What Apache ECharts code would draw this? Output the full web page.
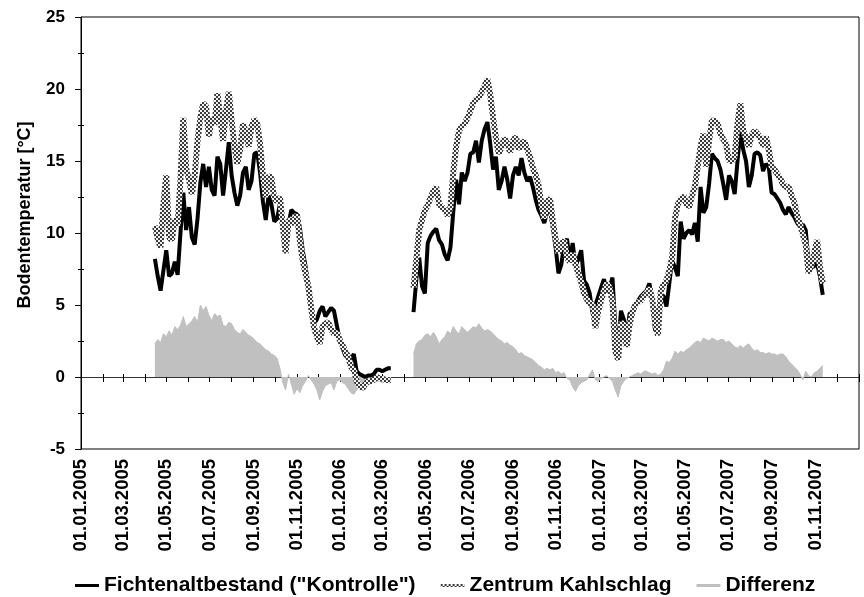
<!DOCTYPE html>
<html>
<head>
<meta charset="utf-8">
<script src="https://cdn.jsdelivr.net/npm/echarts@6/dist/echarts.min.js"></script>
<style>
  html, body { margin: 0; padding: 0; background: #fff; }
  #chart { width: 864px; height: 597px; }
</style>
</head>
<body>
<div id="chart"></div>
<script>
// Bodentemperatur, Werte alle 4 Tage
const stepDays = 4
const seg1Start = '2005-04-15'
const seg2Start = '2006-04-14'

const kontrolle1 = [
  8.2, 7.0, 6.0, 7.4, 8.8, 7.0, 7.2, 8.0, 7.1, 10.0,
  12.8, 10.2, 11.8, 9.7, 9.2, 11.0, 13.5, 14.8, 13.2, 14.6,
  13.0, 12.6, 15.3, 14.8, 12.6, 14.4, 16.3, 14.0, 12.8, 11.9,
  12.6, 14.2, 14.6, 13.0, 13.6, 15.5, 15.6, 14.2, 12.2, 10.9,
  12.6, 12.0, 10.8, 11.0, 12.0, 10.8, 9.6, 10.6, 11.6, 11.4,
  11.3, 10.4, 8.8, 7.7, 6.2, 4.8, 3.7, 4.0, 4.6, 4.9,
  4.2, 4.5, 4.8, 4.6, 3.6, 2.6, 2.0, 1.5, 1.3, 1.2,
  1.6, 0.4, 0.2, 0.1, 0.0, 0.1, 0.1, 0.2, 0.5, 0.5,
  0.4, 0.5, 0.6, 0.6
]
const kahlschlag1 = [
  10.5, 9.6, 9.0, 12.0, 14.0, 9.7, 9.5, 11.0, 10.5, 13.7,
  18.0, 14.5, 13.7, 12.7, 14.0, 16.4, 18.0, 19.0, 18.8, 16.7,
  18.0, 17.5, 19.7, 18.0, 16.4, 18.5, 19.8, 17.8, 16.0, 14.8,
  15.8, 17.6, 17.0, 16.0, 17.4, 17.9, 17.6, 16.2, 14.0, 12.5,
  14.0, 13.8, 12.4, 12.2, 12.5, 10.5, 8.6, 10.8, 11.0, 10.6,
  11.3, 9.5, 8.1, 7.2, 6.3, 4.8, 3.4, 2.8, 2.3, 3.5,
  3.7, 3.8, 3.3, 3.0, 3.1, 2.6, 2.2, 1.8, 1.4, 0.7,
  0.5, -0.3, -0.6, -0.8, -0.5, -0.3, -0.3, -0.2, 0.0, -0.1,
  -0.1, -0.2, -0.2, -0.2
]
const differenz1 = [
  2.3, 2.6, 2.4, 3.0, 2.8, 3.2, 2.9, 3.5, 3.3, 3.6,
  4.2, 3.5, 3.7, 3.9, 4.2, 3.8, 5.0, 4.6, 4.9, 4.3,
  3.9, 4.4, 4.2, 4.3, 3.6, 3.5, 3.8, 3.7, 3.3, 3.1,
  3.0, 3.3, 3.1, 2.9, 2.8, 2.6, 2.4, 2.3, 2.1, 1.9,
  1.8, 1.6, 1.5, 1.3, 0.6, -0.4, -0.9, 0.2, -0.5, -1.2,
  -0.8, -1.1, -0.6, -0.3, 0.1, -0.2, -0.5, -0.9, -1.6, -1.0,
  -0.6, -0.5, -0.4, -0.9, -0.3, -0.2, -0.4, -0.5, -0.8, -1.1,
  -1.2, -0.9, -0.7, -0.5, -0.4, -0.3, -0.4, -0.4, -0.3, -0.3,
  -0.4, -0.3, -0.4, -0.4
]

const kontrolle2 = [
  4.5, 6.8, 8.3, 6.3, 5.8, 9.3, 9.8, 10.1, 10.3, 9.5,
  9.2, 8.5, 8.1, 9.0, 11.5, 13.7, 12.0, 14.2, 13.6, 14.2,
  15.5, 15.6, 16.4, 14.9, 16.4, 17.2, 17.7, 16.2, 14.4, 15.3,
  13.0, 13.6, 14.6, 13.7, 12.4, 14.0, 14.6, 14.0, 15.2, 14.2,
  13.6, 13.9, 13.2, 12.3, 11.6, 11.2, 10.7, 11.5, 11.6, 10.4,
  9.0, 7.2, 7.8, 9.2, 9.6, 8.0, 9.3, 7.7, 8.2, 8.8,
  6.7, 6.4, 5.8, 4.4, 5.0, 5.6, 6.2, 6.8, 5.9, 6.2,
  6.9, 3.5, 2.1, 4.6, 4.0, 2.6, 4.4, 4.5, 4.9, 5.3,
  5.6, 5.8, 6.0, 6.5, 5.3, 3.2, 3.6, 5.8, 5.6, 4.9,
  6.5, 8.1, 7.6, 7.0, 10.8, 9.6, 10.0, 10.2, 9.9, 10.7,
  9.4, 13.2, 11.4, 11.8, 13.4, 15.5, 15.2, 15.0, 14.4, 13.4,
  12.3, 14.0, 13.6, 12.7, 15.0, 17.1, 15.8, 15.0, 13.2, 14.0,
  15.5, 15.6, 15.4, 14.3, 14.8, 14.6, 12.8, 12.7, 12.4, 12.1,
  11.6, 11.3, 11.8, 11.4, 11.1, 10.7, 10.4, 10.6, 10.2, 8.0,
  7.6, 7.7, 7.9, 7.0, 5.7
]
const kahlschlag2 = [
  6.2, 8.2, 10.2, 10.9, 11.6, 11.9, 12.5, 12.9, 13.2, 12.0,
  11.8, 11.6, 11.2, 11.8, 14.2, 16.0, 17.1, 17.4, 17.6, 18.0,
  18.5, 19.0, 19.3, 19.4, 19.8, 20.2, 20.7, 19.6, 18.0, 16.6,
  15.5, 16.0, 16.6, 16.2, 15.6, 16.4, 16.7, 15.8, 16.2, 16.4,
  15.8, 15.3, 14.5, 14.0, 13.3, 12.0, 11.0, 12.2, 12.4, 10.8,
  9.6, 8.6, 9.2, 9.5, 8.3, 8.0, 8.6, 7.8, 7.2, 6.6,
  5.8, 5.4, 5.1, 5.1, 3.4, 4.6, 5.3, 6.0, 6.5, 6.2,
  5.2, 1.8, 1.2, 3.8, 3.6, 2.1, 3.6, 4.5, 5.0, 5.2,
  5.3, 5.6, 5.8, 6.2, 5.4, 3.8, 2.9, 6.0, 6.4, 6.7,
  7.4, 8.3, 11.0, 12.0, 12.3, 12.6, 12.0, 11.8, 12.6, 13.2,
  14.6, 16.0, 16.9, 14.6, 16.4, 17.8, 17.8, 17.6, 16.9, 16.5,
  16.2, 15.0, 15.0, 15.3, 17.6, 19.0, 17.1, 16.6, 16.0, 16.8,
  17.1, 16.9, 16.6, 16.0, 16.7, 15.8, 14.6, 14.4, 14.1, 13.8,
  13.4, 13.2, 13.2, 12.6, 12.1, 11.2, 10.6, 9.9, 9.2, 7.2,
  7.8, 8.6, 9.5, 7.7, 6.5
]
const differenz2 = [
  1.6, 2.3, 2.5, 2.6, 2.9, 3.0, 2.8, 3.1, 2.8, 2.3,
  2.6, 2.8, 3.2, 3.0, 3.5, 3.2, 3.0, 3.5, 3.3, 3.1,
  3.3, 3.5, 3.4, 3.7, 3.4, 3.2, 3.3, 3.2, 3.0, 2.8,
  2.6, 2.5, 2.3, 2.4, 2.2, 2.1, 1.9, 1.6, 1.7, 1.5,
  1.4, 1.3, 1.2, 1.0, 0.8, 0.7, 0.5, 0.6, 0.5, 0.6,
  0.3, 0.4, 0.2, 0.3, -0.1, -0.2, -0.7, -1.0, -0.6, -0.4,
  -0.3, -0.2, 0.2, 0.5, -0.2, -0.3, -0.1, 0.0, 0.1, -0.1,
  -0.3, -0.9, -1.4, -0.6, -0.3, -0.1, 0.0, 0.1, 0.2, 0.3,
  0.2, 0.4, 0.4, 0.3, 0.2, 0.3, 0.1, 0.2, 0.5, 1.1,
  1.0, 1.3, 1.8, 1.6, 1.8, 1.7, 1.9, 2.0, 2.2, 2.4,
  2.5, 2.4, 2.7, 2.6, 2.5, 2.7, 2.6, 2.5, 2.6, 2.6,
  2.4, 2.5, 2.3, 2.1, 2.0, 2.2, 2.0, 2.2, 2.3, 2.0,
  1.8, 1.9, 1.7, 1.7, 1.6, 1.7, 1.6, 1.6, 1.5, 1.6,
  1.6, 1.4, 1.1, 0.9, 0.7, 0.5, 0.2, -0.2, 0.4, 0.1,
  0.0, 0.3, 0.4, 0.6, 0.8
]

const DAY = 86400000
const FONT = '"Liberation Sans", Arial, sans-serif'
const axisMin = Date.UTC(2005, 0, 1)
const axisMax = Date.UTC(2008, 0, 1)

function toTime(s) {
  const p = s.split('-')
  return Date.UTC(+p[0], +p[1] - 1, +p[2])
}

// zwei Messabschnitte, dazwischen eine Luecke
function buildSeries(a, b) {
  const t1 = toTime(seg1Start)
  const t2 = toTime(seg2Start)
  const out = a.map((v, i) => [t1 + i * stepDays * DAY, v])
  out.push([t1 + a.length * stepDays * DAY, null])
  b.forEach((v, i) => out.push([t2 + i * stepDays * DAY, v]))
  return out
}

function monthStarts(step, lastYear, lastMonth) {
  const res = []
  for (let y = 2005; y <= 2008; y++) {
    for (let m = 0; m < 12; m += step) {
      if (y > lastYear || (y === lastYear && m > lastMonth)) return res
      res.push(Date.UTC(y, m, 1))
    }
  }
  return res
}

function fmtDate(v) {
  const d = new Date(v)
  const dd = String(d.getUTCDate()).padStart(2, '0')
  const mm = String(d.getUTCMonth() + 1).padStart(2, '0')
  return dd + '.' + mm + '.' + d.getUTCFullYear()
}

// punktiertes Muster wie in Excel (grobes Schachbrett)
function dotPattern() {
  const c = document.createElement('canvas')
  c.width = 4
  c.height = 4
  const g = c.getContext('2d')
  g.fillStyle = '#f2f2f2'
  g.fillRect(0, 0, 4, 4)
  g.fillStyle = '#3a3a3a'
  g.fillRect(0, 0, 2, 2)
  g.fillRect(2, 2, 2, 2)
  return { image: c, repeat: 'repeat' }
}

const labelMonths = monthStarts(2, 2007, 10)
const tickMonths = monthStarts(1, 2008, 0)
const pattern = dotPattern()

const nameK = 'Fichtenaltbestand ("Kontrolle")'
const nameZ = 'Zentrum Kahlschlag'
const nameD = 'Differenz'

const chart = echarts.init(document.getElementById('chart'))
chart.setOption({
  animation: false,
  textStyle: { fontFamily: FONT },
  grid: {
    left: 81, right: 5, top: 17, bottom: 148,
    show: true, borderColor: '#000', borderWidth: 1, backgroundColor: 'transparent'
  },
  legend: {
    top: 570,
    left: 70,
    icon: 'rect',
    itemWidth: 24,
    itemHeight: 3,
    itemGap: 25,
    textStyle: { fontFamily: FONT, fontSize: 21, fontWeight: 'bold', color: '#000' },
    data: [
      { name: nameK, itemStyle: { color: '#000' } },
      { name: nameZ, itemStyle: { color: pattern } },
      { name: nameD, itemStyle: { color: '#c0c0c0' } }
    ]
  },
  xAxis: [
    {
      type: 'value', min: axisMin, max: axisMax, position: 'bottom',
      axisLine: { show: false, onZero: false },
      axisTick: { show: false },
      splitLine: { show: false },
      axisLabel: {
        customValues: labelMonths,
        formatter: fmtDate,
        rotate: 90, margin: 10,
        fontFamily: FONT, fontSize: 18.5, fontWeight: 'bold', color: '#000'
      }
    },
    {
      type: 'value', min: axisMin, max: axisMax, position: 'bottom',
      axisLine: { show: true, onZero: true, lineStyle: { color: '#333', width: 1 } },
      axisTick: { show: true, customValues: tickMonths, length: 5, lineStyle: { color: '#000' } },
      axisLabel: { show: false },
      splitLine: { show: false }
    },
    {
      type: 'value', min: axisMin, max: axisMax, position: 'top',
      axisLine: { show: false, onZero: true },
      axisTick: { show: true, customValues: tickMonths, length: 3, lineStyle: { color: '#000' } },
      axisLabel: { show: false },
      splitLine: { show: false }
    }
  ],
  yAxis: [
    {
      type: 'value', min: -5, max: 25, interval: 5,
      name: 'Bodentemperatur [°C]',
      nameLocation: 'middle', nameRotate: 90, nameGap: 47,
      nameTextStyle: {
        fontFamily: FONT, fontSize: 18, fontWeight: 'bold', color: '#000',
        padding: [0, 0, 0, 36]
      },
      axisLine: { show: true, lineStyle: { color: '#000', width: 1 } },
      axisTick: { show: true, length: 6, lineStyle: { color: '#000' } },
      minorTick: { show: true, splitNumber: 2, length: 3, lineStyle: { color: '#000' } },
      splitLine: { show: false },
      axisLabel: { margin: 16, fontFamily: FONT, fontSize: 17, fontWeight: 'bold', color: '#000' }
    },
    {
      type: 'value', min: -5, max: 25, interval: 2.5, position: 'left',
      axisLine: { show: false },
      axisTick: { show: true, inside: true, length: 3, customValues: [-2.5, 2.5, 7.5, 12.5, 17.5, 22.5], lineStyle: { color: '#000' } },
      axisLabel: { show: false },
      splitLine: { show: false }
    }
  ],
  series: [
    {
      name: nameK, type: 'line', z: 3,
      data: buildSeries(kontrolle1, kontrolle2),
      showSymbol: false, symbol: 'none', connectNulls: false,
      lineStyle: { color: '#000', width: 4 },
      itemStyle: { color: '#000' }
    },
    {
      name: nameZ, type: 'line', z: 4,
      data: buildSeries(kahlschlag1, kahlschlag2),
      showSymbol: false, symbol: 'none', connectNulls: false,
      lineStyle: { color: pattern, width: 6 },
      itemStyle: { color: pattern }
    },
    {
      name: nameD, type: 'line', z: 2,
      data: buildSeries(differenz1, differenz2),
      showSymbol: false, symbol: 'none', connectNulls: false,
      lineStyle: { color: '#c0c0c0', width: 1 },
      itemStyle: { color: '#c0c0c0' },
      areaStyle: { color: '#c0c0c0', opacity: 1 }
    }
  ]
})
</script>
</body>
</html>
